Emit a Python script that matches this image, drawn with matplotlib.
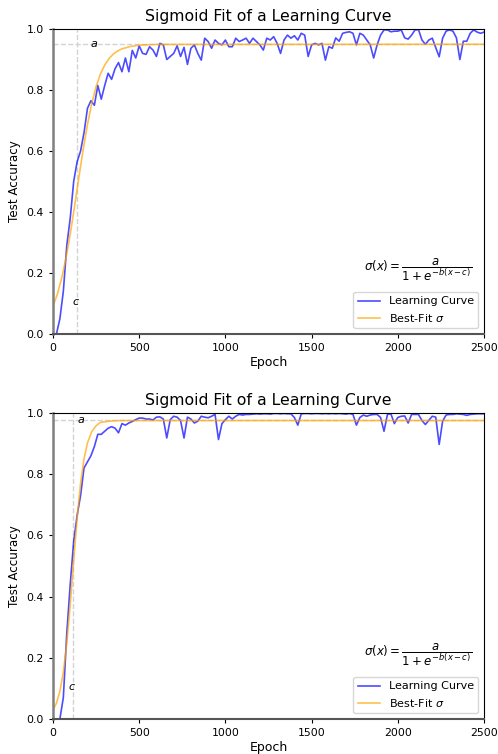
import matplotlib
matplotlib.use("Agg")
import numpy as np
import matplotlib.pyplot as plt

# epochs sampled every 20
epochs = list(range(0, 2501, 20))

acc_top = [
    0.0, 0.0, 0.05, 0.14, 0.29, 0.38, 0.50, 0.565, 0.60, 0.66,
    0.74, 0.765, 0.75, 0.815, 0.77, 0.815, 0.855, 0.835, 0.87, 0.89,
    0.86, 0.905, 0.86, 0.93, 0.905, 0.945, 0.92, 0.917, 0.942, 0.931,
    0.91, 0.953, 0.948, 0.90, 0.91, 0.92, 0.945, 0.91, 0.94, 0.884,
    0.937, 0.948, 0.92, 0.898, 0.97, 0.959, 0.937, 0.964, 0.953, 0.948,
    0.964, 0.942, 0.942, 0.97, 0.959, 0.964, 0.97, 0.953, 0.97, 0.959,
    0.948, 0.931, 0.97, 0.964, 0.975, 0.953, 0.92, 0.964, 0.98, 0.97,
    0.978, 0.964, 0.986, 0.98, 0.91, 0.948, 0.953, 0.948, 0.953, 0.898,
    0.942, 0.937, 0.971, 0.96, 0.986, 0.989, 0.991, 0.986, 0.948, 0.986,
    0.98, 0.964, 0.948, 0.905, 0.948, 0.98, 0.997, 0.997, 0.991, 0.993,
    0.993, 0.997, 0.971, 0.967, 0.98, 0.997, 0.998, 0.964, 0.95, 0.964,
    0.97, 0.939, 0.909, 0.97, 0.993, 0.997, 0.993, 0.971, 0.90, 0.96,
    0.96, 0.986, 0.997, 0.99, 0.986, 0.99,
]

acc_bot = [
    0.0, 0.0, 0.0, 0.07, 0.28, 0.44, 0.58, 0.665, 0.73, 0.82,
    0.84, 0.86, 0.89, 0.93, 0.93, 0.94, 0.95, 0.955, 0.95, 0.935,
    0.965, 0.96, 0.967, 0.972, 0.978, 0.983, 0.983, 0.98, 0.98, 0.977,
    0.986, 0.987, 0.98, 0.918, 0.978, 0.989, 0.986, 0.975, 0.918, 0.986,
    0.98, 0.967, 0.973, 0.989, 0.986, 0.984, 0.989, 0.995, 0.913, 0.965,
    0.978, 0.989, 0.98, 0.989, 0.995, 0.993, 0.995, 0.995, 0.996, 0.997,
    0.996, 0.997, 0.997, 0.996, 0.998, 0.998, 0.997, 0.998, 0.997, 0.997,
    0.985, 0.96, 0.997, 0.998, 0.998, 0.997, 0.998, 0.998, 0.997, 0.998,
    0.997, 0.998, 0.997, 0.998, 0.997, 0.996, 0.998, 0.995, 0.96, 0.985,
    0.993, 0.989, 0.993, 0.995, 0.995, 0.985, 0.94, 0.995, 0.997, 0.965,
    0.985, 0.989, 0.99, 0.967, 0.995, 0.995, 0.995, 0.975, 0.962, 0.976,
    0.989, 0.986, 0.897, 0.973, 0.993, 0.995, 0.995, 0.997, 0.996, 0.995,
    0.992, 0.995, 0.996, 0.997, 0.997, 0.997,
]

# best-fit sigmoid
fit_x_top = [0, 25, 50, 75, 100, 125, 150, 175, 200, 225, 250, 275, 300,
             325, 350, 375, 400, 450, 500, 600, 2500]
fit_y_top = [0.091, 0.130, 0.182, 0.248, 0.328, 0.418, 0.513, 0.605, 0.687,
             0.756, 0.811, 0.852, 0.882, 0.903, 0.918, 0.928, 0.935, 0.943,
             0.947, 0.9495, 0.95]
fit_x_bot = [0, 20, 40, 60, 80, 100, 120, 140, 160, 180, 200, 225, 250, 275,
             300, 350, 400, 2500]
fit_y_bot = [0.029, 0.052, 0.091, 0.153, 0.247, 0.373, 0.517, 0.656, 0.770,
             0.850, 0.902, 0.939, 0.958, 0.969, 0.971, 0.974, 0.975, 0.975]

params_a = [0.95, 0.977]
params_c = [139, 116]
a_label_x = [240, 165]

fig = plt.figure(figsize=(4.98, 7.54), dpi=100)
ax1 = fig.add_axes([0.1064, 0.557, 0.8655, 0.4045])
ax2 = fig.add_axes([0.1064, 0.0464, 0.8655, 0.406])

panels = [
    (ax1, acc_top, fit_x_top, fit_y_top),
    (ax2, acc_bot, fit_x_bot, fit_y_bot),
]

for i, (ax, acc, fx, fy) in enumerate(panels):
    a = params_a[i]
    c = params_c[i]
    ax.axhline(a, color='lightgray', ls='--', lw=1.0, zorder=1)
    ax.axvline(c, color='lightgray', ls='--', lw=1.0, zorder=1)
    ax.plot(epochs, acc, color='blue', alpha=0.7, lw=1.2, label='Learning Curve')
    ax.plot(fx, fy, color='orange', alpha=0.7, lw=1.2, label=r'Best-Fit $\sigma$')
    ax.text(a_label_x[i], a, '$a$', ha='center', va='center', fontsize=8)
    ax.text(c - 8, 0.105, '$c$', ha='center', va='center', fontsize=8)
    ax.text(0.972, 0.21, r'$\sigma(x) = \dfrac{a}{1 + e^{-b(x-c)}}$',
            transform=ax.transAxes, ha='right', va='center', fontsize=8.5)
    ax.set_xlim(0, 2500)
    ax.set_ylim(0, 1)
    ax.spines['left'].set_color('gray')
    ax.spines['left'].set_linewidth(1.8)
    ax.spines['bottom'].set_color('#555555')
    ax.spines['bottom'].set_linewidth(1.5)
    ax.tick_params(labelsize=7.8, length=3)
    ax.set_title('Sigmoid Fit of a Learning Curve', fontsize=11.3)
    ax.set_xlabel('Epoch', fontsize=9, labelpad=2)
    ax.set_ylabel('Test Accuracy', fontsize=8.6)
    ax.legend(loc='lower right', fontsize=8)

plt.savefig('out.png', dpi=100)
